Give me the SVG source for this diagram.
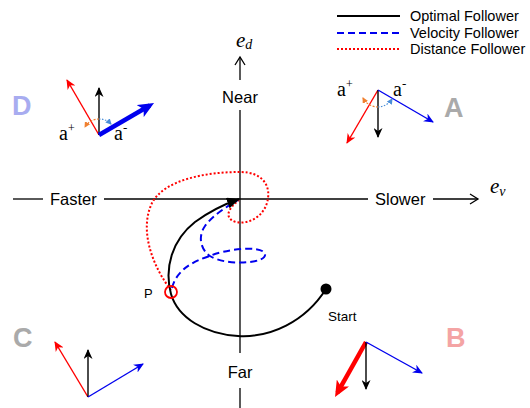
<svg xmlns="http://www.w3.org/2000/svg" width="530" height="408" viewBox="0 0 530 408">
<style>
.ax{stroke:#000;stroke-width:1.3;fill:none}
.lbl{font-family:"Liberation Sans",Arial,sans-serif;font-size:16.5px;fill:#000}
.leg{font-family:"Liberation Sans",Arial,sans-serif;font-size:14.5px;fill:#000}
.sm{font-family:"Liberation Sans",Arial,sans-serif;fill:#000}
.math{font-family:"Liberation Serif","DejaVu Serif",serif;font-style:italic;fill:#000}
.a{font-family:"Liberation Serif","DejaVu Serif",serif;fill:#000}
.q{font-family:"Liberation Sans",Arial,sans-serif;font-size:27px;font-weight:bold}
.opt{stroke:#000;stroke-width:2;fill:none}
.vel{stroke:#0000ee;stroke-width:2;fill:none;stroke-dasharray:7,4}
.dis{stroke:#f00;stroke-width:2;fill:none;stroke-dasharray:2,2}
.k{stroke:#000;stroke-width:1.4;fill:none}
.r{stroke:#f00;stroke-width:1.4;fill:none}
.b{stroke:#0000ee;stroke-width:1.4;fill:none}
.oa{stroke:#f08030;stroke-width:1.2;fill:none;stroke-dasharray:2,1.5}
.ba{stroke:#4a8ed8;stroke-width:1.2;fill:none;stroke-dasharray:1.5,1.5}
</style>
<defs>
<marker id="mk" markerUnits="userSpaceOnUse" markerWidth="10" markerHeight="9" viewBox="0 0 10 9" refX="9" refY="4.5" orient="auto"><path d="M0,0 L10,4.5 L0,9 L3,4.5 z" fill="#000"/></marker>
<marker id="mr" markerUnits="userSpaceOnUse" markerWidth="10" markerHeight="9" viewBox="0 0 10 9" refX="9" refY="4.5" orient="auto"><path d="M0,0 L10,4.5 L0,9 L3,4.5 z" fill="#f00"/></marker>
<marker id="mb" markerUnits="userSpaceOnUse" markerWidth="10" markerHeight="9" viewBox="0 0 10 9" refX="9" refY="4.5" orient="auto"><path d="M0,0 L10,4.5 L0,9 L3,4.5 z" fill="#0000ee"/></marker>
<marker id="mB" markerUnits="userSpaceOnUse" markerWidth="16" markerHeight="14" viewBox="0 0 16 14" refX="11" refY="7" orient="auto"><path d="M0,0 L16,7 L0,14 L4,7 z" fill="#0000ee"/></marker>
<marker id="mR" markerUnits="userSpaceOnUse" markerWidth="16" markerHeight="14" viewBox="0 0 16 14" refX="11" refY="7" orient="auto"><path d="M0,0 L16,7 L0,14 L4,7 z" fill="#f00"/></marker>
<marker id="mo" markerUnits="userSpaceOnUse" markerWidth="6" markerHeight="6" viewBox="0 0 6 6" refX="5" refY="3" orient="auto"><path d="M0,0 L6,3 L0,6 z" fill="#f08030"/></marker>
<marker id="mlb" markerUnits="userSpaceOnUse" markerWidth="6" markerHeight="6" viewBox="0 0 6 6" refX="5" refY="3" orient="auto"><path d="M0,0 L6,3 L0,6 z" fill="#4a8ed8"/></marker>
<marker id="mc" markerUnits="userSpaceOnUse" markerWidth="13" markerHeight="11" viewBox="0 0 13 11" refX="12" refY="5.5" orient="auto"><path d="M0,0 L13,5.5 L0,11 z" fill="#000"/></marker>
</defs>

<g id="legend">
<line x1="337" y1="16" x2="400" y2="16" class="opt"/>
<text x="410" y="21" class="leg">Optimal Follower</text>
<line x1="337" y1="33" x2="400" y2="33" class="vel"/>
<text x="410" y="38" class="leg">Velocity Follower</text>
<line x1="337" y1="49" x2="400" y2="49" class="dis"/>
<text x="410" y="54" class="leg">Distance Follower</text>
</g>

<g id="axes">
<line x1="13" y1="199" x2="43" y2="199" class="ax"/>
<line x1="104" y1="199" x2="368" y2="199" class="ax"/>
<line x1="433" y1="199" x2="478" y2="199" class="ax"/>
<polyline points="470,194 478,199 470,204" class="ax"/>
<line x1="240" y1="110" x2="240" y2="353" class="ax"/>
<line x1="240" y1="388" x2="240" y2="408" class="ax"/>
<line x1="240" y1="80" x2="240" y2="57" class="ax"/>
<polyline points="235,65 240,57 245,65" class="ax"/>
<text x="50" y="205" class="lbl">Faster</text>
<text x="375" y="205" class="lbl">Slower</text>
<text x="240" y="103" class="lbl" text-anchor="middle">Near</text>
<text x="240" y="378" class="lbl" text-anchor="middle">Far</text>
<text x="236" y="47" class="math" font-size="21">e<tspan font-size="14" dy="2">d</tspan></text>
<text x="490" y="193" class="math" font-size="21">e<tspan font-size="14" dy="3">v</tspan></text>
</g>

<g id="connectors">
<path class="dis" d="M171,290 C155,270 138,232 152,203 C164,180 205,172 240,172 C262,172 270,185 268,198 C266,215 250,225 236,222 C225,219 226,210 239,200"/>
<path class="vel" d="M172,288 C176,272 190,262 210,256 C222,250 262,244 265,254 C267,264 225,266 210,256 C200,249 198,236 205,226 C214,214 228,206 238,200"/>
<path class="opt" d="M326,289 C305,322 270,338 238,336 C205,334 178,318 171,294 C164,268 172,240 195,222 C210,211 225,204 239,199" marker-end="url(#mc)"/>
</g>

<g id="start">
<circle cx="326" cy="289" r="5.5" fill="#000"/>
<text x="328" y="321" class="sm" font-size="13.5">Start</text>
</g>

<g id="P">
<circle cx="171" cy="292" r="6" fill="none" stroke="#f00" stroke-width="1.8"/>
<text x="144" y="298" class="sm" font-size="13">P</text>
</g>

<g id="quadD">
<text x="12" y="115" class="q" fill="#a8acf0">D</text>
<line x1="99" y1="135" x2="67" y2="80" class="r" marker-end="url(#mr)"/>
<line x1="99" y1="135" x2="99" y2="88" class="k" marker-end="url(#mk)"/>
<line x1="99" y1="135" x2="149.7" y2="105.5" stroke="#0000ee" stroke-width="4.5" marker-end="url(#mB)"/>
<path class="oa" d="M99,119 A16,16 0 0 0 85,127" marker-end="url(#mo)"/>
<path class="ba" d="M99,119 A16,16 0 0 1 111,124" marker-end="url(#mlb)"/>
<text x="59" y="140" class="a" font-size="20">a<tspan font-size="12" dy="-8">+</tspan></text>
<text x="114" y="140" class="a" font-size="20">a<tspan font-size="13" dy="-8">-</tspan></text>
</g>

<g id="quadA">
<text x="444" y="117" class="q" fill="#aaaaaa">A</text>
<line x1="378" y1="90" x2="347" y2="143" class="r" marker-end="url(#mr)"/>
<line x1="378" y1="90" x2="378" y2="137" class="k" marker-end="url(#mk)"/>
<line x1="378" y1="90" x2="433" y2="122" class="b" marker-end="url(#mb)"/>
<path class="oa" d="M378,107 A17,17 0 0 1 363,98" marker-end="url(#mo)"/>
<path class="ba" d="M378,107 A17,17 0 0 0 392,99" marker-end="url(#mlb)"/>
<text x="337" y="96" class="a" font-size="20">a<tspan font-size="12" dy="-8">+</tspan></text>
<text x="393" y="96" class="a" font-size="20">a<tspan font-size="13" dy="-8">-</tspan></text>
</g>

<g id="quadC">
<text x="13" y="347" class="q" fill="#aaaaaa">C</text>
<line x1="88" y1="397" x2="55" y2="342" class="r" marker-end="url(#mr)"/>
<line x1="88" y1="397" x2="88" y2="350" class="k" marker-end="url(#mk)"/>
<line x1="88" y1="397" x2="143" y2="364" class="b" marker-end="url(#mb)"/>
</g>

<g id="quadB">
<text x="446" y="347" class="q" fill="#f4a4a4">B</text>
<line x1="366" y1="342" x2="337.5" y2="392.6" stroke="#f00" stroke-width="4.5" marker-end="url(#mR)"/>
<line x1="366" y1="342" x2="366" y2="389" class="k" marker-end="url(#mk)"/>
<line x1="366" y1="342" x2="422" y2="373" class="b" marker-end="url(#mb)"/>
</g>
</svg>
